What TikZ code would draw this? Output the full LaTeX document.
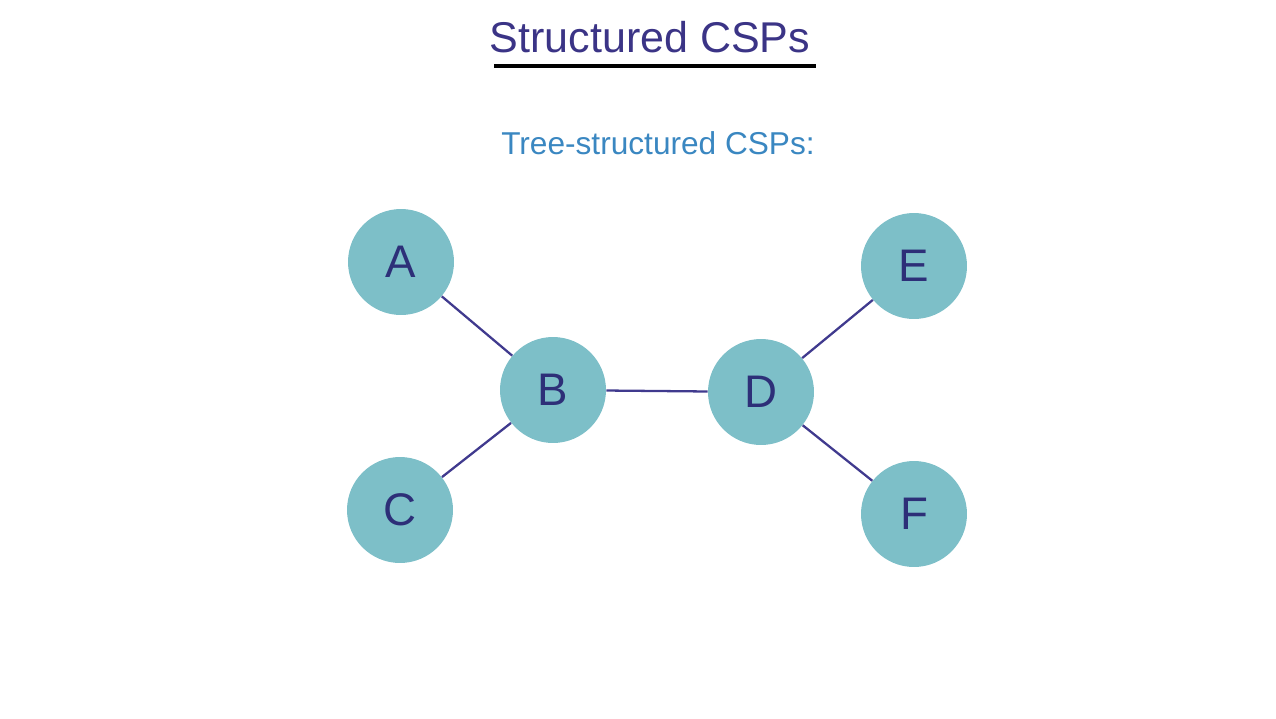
\documentclass[tikz,border=0pt]{standalone}
\usepackage{fontspec}
\setmainfont{Liberation Sans}
\usepackage{xcolor}
\usetikzlibrary{positioning}

\definecolor{titleblue}{HTML}{3B3486}
\definecolor{subblue}{HTML}{3A87C1}
\definecolor{nodefill}{HTML}{7DBFC8}
\definecolor{edgeblue}{HTML}{403A8E}
\definecolor{letterblue}{HTML}{2D2F78}

\begin{document}
\begin{tikzpicture}[
			x=0.02cm, y=-0.02cm,
			var/.style={circle, fill=nodefill, minimum size=2.12cm, inner sep=0pt,
				text=letterblue, font=\fontsize{26}{30}\selectfont},
			edge/.style={draw=edgeblue, line width=1.3pt}
			]
			\useasboundingbox (0,0) rectangle (1276,718);
			
			%==================== 标题 ====================
			\node[text=titleblue, font=\fontsize{24.5}{30}\selectfont] (title) at (650,37) {Structured CSPs};
			\draw[black, line width=2pt] (494,66) -- (816,66);
			\node[text=subblue, font=\fontsize{18}{22}\selectfont] (sub) at (658,143) {Tree-structured CSPs:};
			
			%==================== 树 ====================
			\node[var] (A) at (401,262) {A};
			\node[var] (B) at (553,390) {B};
			\node[var] (C) at (400,510) {C};
			\node[var] (D) at (761,392) {D};
			\node[var] (E) at (914,266) {E};
			\node[var] (F) at (914,514) {F};
			
			\draw[edge] (A) -- (B);
			\draw[edge] (C) -- (B);
			\draw[edge] (B) -- (D);
			\draw[edge] (D) -- (E);
			\draw[edge] (D) -- (F);
			
		\end{tikzpicture}
\end{document}
